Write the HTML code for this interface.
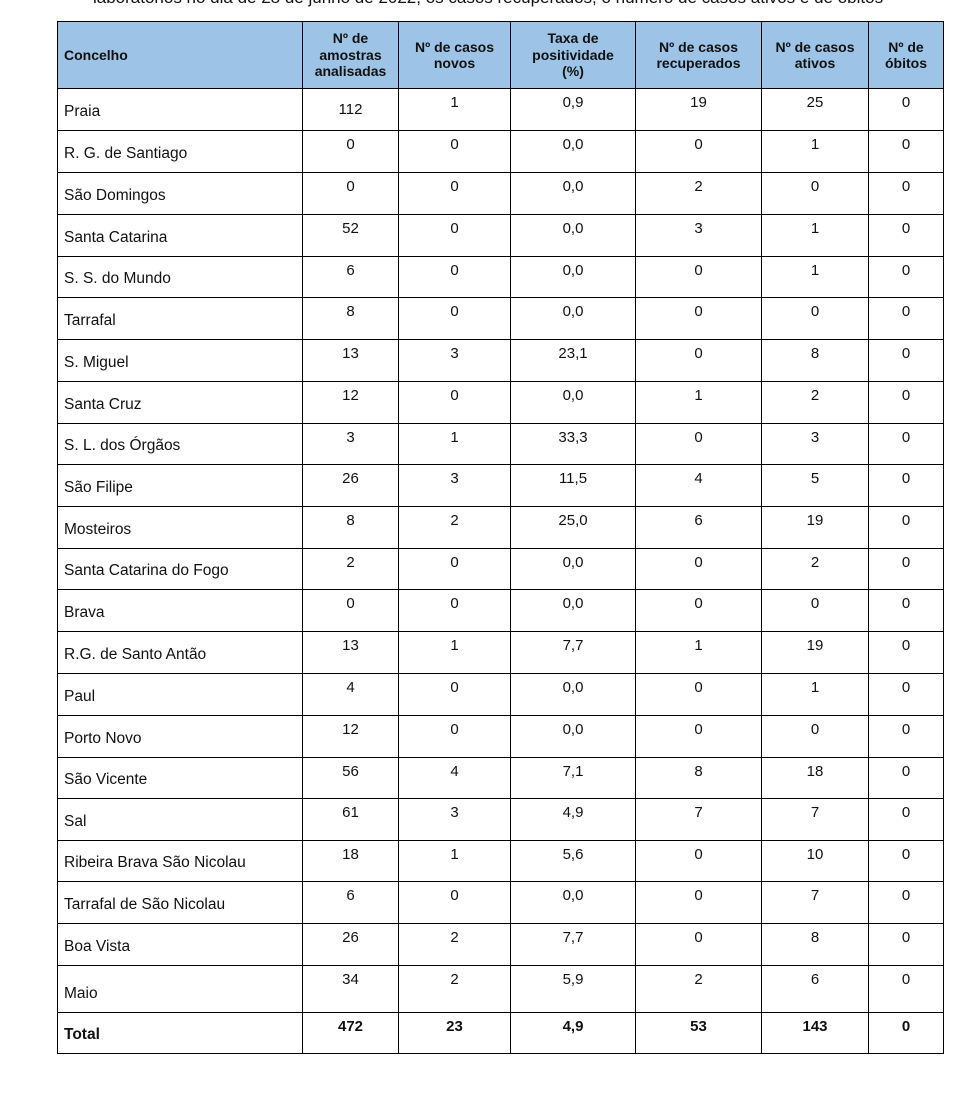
<!DOCTYPE html>
<html><head><meta charset="utf-8"><style>
body{margin:0;background:#fff;width:973px;height:1103px;overflow:hidden;position:relative;font-family:"Liberation Sans",sans-serif;}
.top{position:absolute;left:93px;top:-12px;font-size:17px;color:#111;white-space:nowrap;}
table{position:absolute;left:57px;top:21px;border-collapse:collapse;table-layout:fixed;}
td,th{border:1.3px solid #000;padding:0;font-size:15px;color:#111;}
th{background:#9dc3e6;font-weight:bold;font-size:14px;line-height:16.5px;text-align:center;}
th.l{text-align:left;padding-left:6px;}
td{text-align:center;vertical-align:top;padding-top:5px;}
td.n{text-align:left;vertical-align:bottom;padding:0 0 9px 6px;font-size:15.5px;}
tr.t td{font-weight:bold;}
</style></head><body>
<div class="top">laboratórios no dia de 28 de junho de 2022, os casos recuperados, o número de casos ativos e de óbitos</div>
<table>
<colgroup><col style="width:245px"><col style="width:96px"><col style="width:112px"><col style="width:125px"><col style="width:126px"><col style="width:107px"><col style="width:75px"></colgroup>
<tr style="height:67px"><th class="l">Concelho</th><th>Nº de<br>amostras<br>analisadas</th><th>Nº de casos<br>novos</th><th>Taxa de<br>positividade<br>(%)</th><th>Nº de casos<br>recuperados</th><th>Nº de casos<br>ativos</th><th>Nº de<br>óbitos</th></tr>
<tr style="height:42px"><td class="n">Praia</td><td style="padding-top:12px">112</td><td>1</td><td>0,9</td><td>19</td><td>25</td><td>0</td></tr>
<tr style="height:42px"><td class="n">R. G. de Santiago</td><td>0</td><td>0</td><td>0,0</td><td>0</td><td>1</td><td>0</td></tr>
<tr style="height:42px"><td class="n">São Domingos</td><td>0</td><td>0</td><td>0,0</td><td>2</td><td>0</td><td>0</td></tr>
<tr style="height:42px"><td class="n">Santa Catarina</td><td>52</td><td>0</td><td>0,0</td><td>3</td><td>1</td><td>0</td></tr>
<tr style="height:41px"><td class="n">S. S. do Mundo</td><td>6</td><td>0</td><td>0,0</td><td>0</td><td>1</td><td>0</td></tr>
<tr style="height:42px"><td class="n">Tarrafal</td><td>8</td><td>0</td><td>0,0</td><td>0</td><td>0</td><td>0</td></tr>
<tr style="height:42px"><td class="n">S. Miguel</td><td>13</td><td>3</td><td>23,1</td><td>0</td><td>8</td><td>0</td></tr>
<tr style="height:42px"><td class="n">Santa Cruz</td><td>12</td><td>0</td><td>0,0</td><td>1</td><td>2</td><td>0</td></tr>
<tr style="height:41px"><td class="n">S. L. dos Órgãos</td><td>3</td><td>1</td><td>33,3</td><td>0</td><td>3</td><td>0</td></tr>
<tr style="height:42px"><td class="n">São Filipe</td><td>26</td><td>3</td><td>11,5</td><td>4</td><td>5</td><td>0</td></tr>
<tr style="height:42px"><td class="n">Mosteiros</td><td>8</td><td>2</td><td>25,0</td><td>6</td><td>19</td><td>0</td></tr>
<tr style="height:41px"><td class="n">Santa Catarina do Fogo</td><td>2</td><td>0</td><td>0,0</td><td>0</td><td>2</td><td>0</td></tr>
<tr style="height:42px"><td class="n">Brava</td><td>0</td><td>0</td><td>0,0</td><td>0</td><td>0</td><td>0</td></tr>
<tr style="height:42px"><td class="n">R.G. de Santo Antão</td><td>13</td><td>1</td><td>7,7</td><td>1</td><td>19</td><td>0</td></tr>
<tr style="height:42px"><td class="n">Paul</td><td>4</td><td>0</td><td>0,0</td><td>0</td><td>1</td><td>0</td></tr>
<tr style="height:42px"><td class="n">Porto Novo</td><td>12</td><td>0</td><td>0,0</td><td>0</td><td>0</td><td>0</td></tr>
<tr style="height:41px"><td class="n">São Vicente</td><td>56</td><td>4</td><td>7,1</td><td>8</td><td>18</td><td>0</td></tr>
<tr style="height:42px"><td class="n">Sal</td><td>61</td><td>3</td><td>4,9</td><td>7</td><td>7</td><td>0</td></tr>
<tr style="height:41px"><td class="n">Ribeira Brava São Nicolau</td><td>18</td><td>1</td><td>5,6</td><td>0</td><td>10</td><td>0</td></tr>
<tr style="height:42px"><td class="n">Tarrafal de São Nicolau</td><td>6</td><td>0</td><td>0,0</td><td>0</td><td>7</td><td>0</td></tr>
<tr style="height:42px"><td class="n">Boa Vista</td><td>26</td><td>2</td><td>7,7</td><td>0</td><td>8</td><td>0</td></tr>
<tr style="height:47px"><td class="n">Maio</td><td>34</td><td>2</td><td>5,9</td><td>2</td><td>6</td><td>0</td></tr>
<tr class="t" style="height:41px"><td class="n">Total</td><td>472</td><td>23</td><td>4,9</td><td>53</td><td>143</td><td>0</td></tr>
</table>
</body></html>
